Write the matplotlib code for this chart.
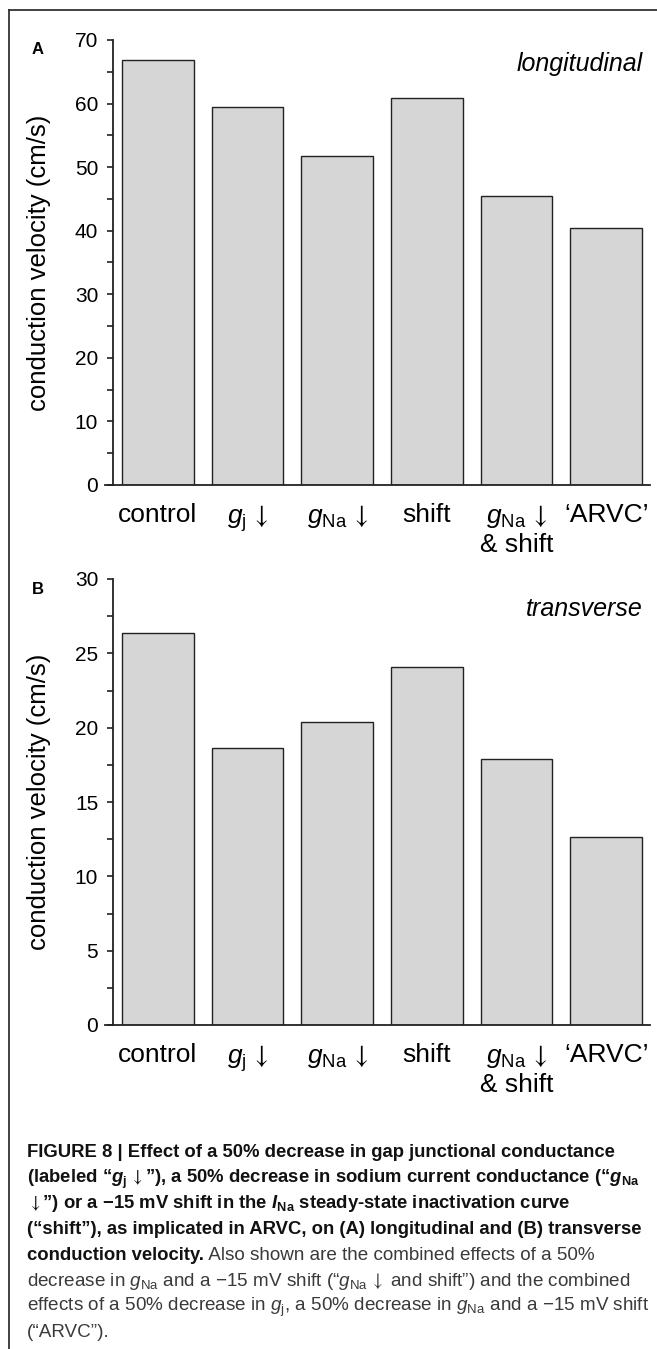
import matplotlib
matplotlib.use("Agg")
import matplotlib.pyplot as plt
from matplotlib.lines import Line2D
from matplotlib.ticker import MultipleLocator

plt.rcParams['font.family'] = ['Liberation Sans', 'DejaVu Sans']
plt.rcParams['mathtext.fontset'] = 'custom'
plt.rcParams['mathtext.rm'] = 'Liberation Sans'
plt.rcParams['mathtext.it'] = 'Liberation Sans:italic'
plt.rcParams['mathtext.bf'] = 'Liberation Sans:bold'
plt.rcParams['mathtext.bfit'] = 'Liberation Sans:italic:bold'
plt.rcParams['mathtext.sf'] = 'STIXGeneral'

# ------------------------------
# Datos
# ------------------------------
ARROW = "\\,\\mathsf{\\downarrow}"
categories = ["control", "$g_\\mathrm{j}" + ARROW + "$", "$g_\\mathrm{Na}" + ARROW + "$", "shift",
              "$g_\\mathrm{Na}" + ARROW + "$\n& shift", "\u2018ARVC\u2019"]
longitudinal = [66.9, 59.5, 51.8, 60.9, 45.4, 40.4]
transverse = [26.4, 18.65, 20.4, 24.1, 17.9, 12.65]

W, H = 657, 1349
fig = plt.figure(figsize=(W / 100, H / 100), dpi=100)
INK = '#222222'


def px_box(left, right, top, bottom):
    return [left / W, 1 - bottom / H, (right - left) / W, (bottom - top) / H]


def panel(top, bottom, values, ymax, major, label, title, title_base):
    ax = fig.add_axes(px_box(105, 650, top, bottom))
    x = range(len(values))
    ax.bar(x, values, width=0.80, color='#d6d6d6', edgecolor=INK, linewidth=1.0, zorder=2)
    ax.set_xlim(-0.588, 5.488)
    ax.set_ylim(0, ymax)
    ax.spines['top'].set_visible(False)
    ax.spines['right'].set_visible(False)
    ax.spines['left'].set_position(('data', -0.502))
    ax.spines['left'].set_bounds(0, ymax)
    for s in ('left', 'bottom'):
        ax.spines[s].set_linewidth(1.3)
        ax.spines[s].set_color(INK)
    ax.yaxis.set_major_locator(MultipleLocator(major))
    ax.yaxis.set_minor_locator(MultipleLocator(major / 2))
    ax.tick_params(axis='y', which='both', direction='out', length=4, width=1.2,
                   labelsize=15, pad=6.5, color=INK)
    ax.set_xticks(list(x))
    ax.set_xticklabels(categories, fontsize=19, linespacing=1.15)
    ax.tick_params(axis='x', length=0, pad=13)
    # etiqueta eje y, letra del panel y titulo
    fig.text(39 / W, 1 - (top + bottom) / 2 / H, "conduction velocity (cm/s)", rotation=90,
             ha='center', va='center', fontsize=18.5)
    fig.text(38 / W, 1 - (top + 10) / H, label, ha='center', va='center',
             fontsize=12, fontweight='bold')
    fig.text(643 / W, 1 - title_base / H, title, ha='right', va='baseline',
             fontsize=18, style='italic')
    return ax


panel(40, 485, longitudinal, 70, 10, "A", "longitudinal", 71)
panel(579, 1025, transverse, 30, 5, "B", "transverse", 616)

# marco
fig.add_artist(Line2D([9 / W, 1], [1 - 10 / H, 1 - 10 / H], color='#333333', lw=1.3))
fig.add_artist(Line2D([9 / W, 9 / W], [0, 1 - 10 / H], color='#333333', lw=1.3))

# ------------------------------
# Pie de figura
# ------------------------------
caption = [
    [("FIGURE 8 | Effect of a 50% decrease in gap junctional conductance", 'bold')],
    [("(labeled \u201c$\\mathbfit{g}_\\mathbf{j}" + ARROW + "$\u201d), a 50% decrease in sodium current conductance (\u201c$\\mathbfit{g}_\\mathbf{Na}$", 'bold')],
    [("$\\mathsf{\\downarrow}$\u201d) or a \u221215 mV shift in the $\\mathbfit{I}_\\mathbf{Na}$ steady-state inactivation curve", 'bold')],
    [("(\u201cshift\u201d), as implicated in ARVC, on (A) longitudinal and (B) transverse", 'bold')],
    [("conduction velocity.", 'bold'), (" Also shown are the combined effects of a 50%", 'normal')],
    [("decrease in $g_\\mathrm{Na}$ and a \u221215 mV shift (\u201c$g_\\mathrm{Na}" + ARROW + "$ and shift\u201d) and the combined", 'normal')],
    [("effects of a 50% decrease in $g_\\mathrm{j}$, a 50% decrease in $g_\\mathrm{Na}$ and a \u221215 mV shift", 'normal')],
    [("(\u201cARVC\u201d).", 'normal')],
]

renderer = fig.canvas.get_renderer()
y0 = 1157
for i, line in enumerate(caption):
    xpix = 27
    for txt, weight in line:
        color = '#111111' if weight == 'bold' else '#3a3a3a'
        size = 13.3 if weight == 'bold' else 13.6
        t = fig.text(xpix / W, 1 - (y0 + i * 25.7) / H, txt, fontsize=size, fontweight=weight,
                     ha='left', va='baseline', color=color)
        xpix += t.get_window_extent(renderer).width

fig.savefig("out.png", dpi=100)
